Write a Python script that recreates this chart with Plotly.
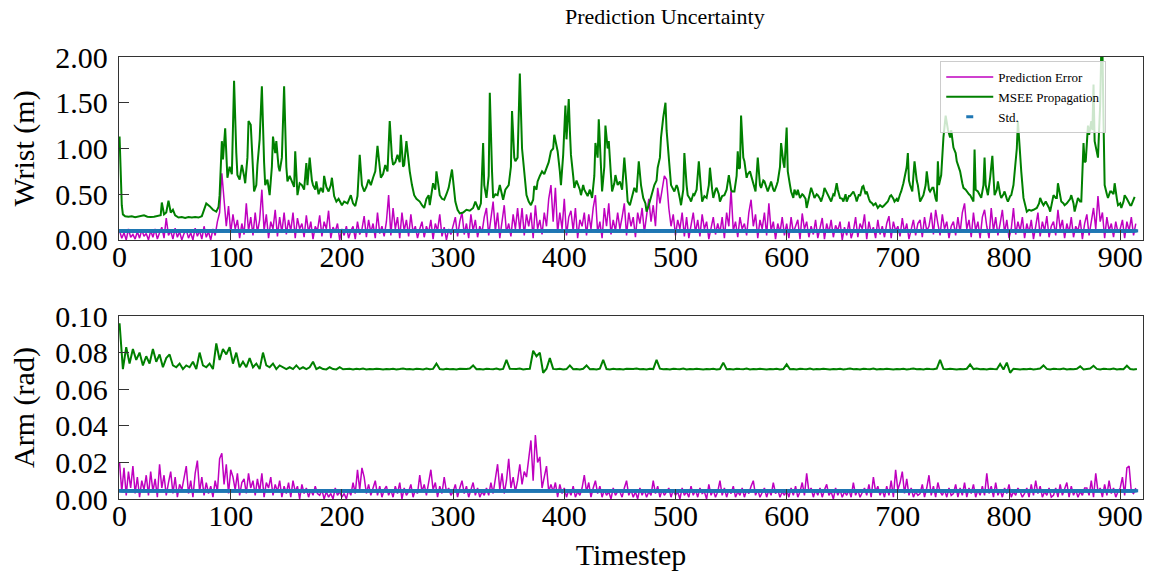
import plotly.graph_objects as go

# ---------------- data ----------------
# Wrist MSEE propagation (timestep, value)
wrist_msee_t = [0,1,2,3,5,8,11,14,17,20,22,25,28,31,34,37,38,40,42,44,46,48,50,53,56,59,62,65,68,71,74,76,78,81,84,87,89,90,92,93,95,97,99,101,103,105,106,108,110,112,113,115,116,118,119,121,123,124,126,128,130,131,133,135,137,138,140,141,143,144,146,148,150,151,153,155,157,158,160,162,164,166,168,169,171,173,174,176,177,179,181,183,184,186,188,190,191,193,195,197,200,202,205,208,210,212,214,216,218,220,222,224,226,228,230,232,234,235,237,239,241,243,245,246,248,250,252,253,255,256,258,260,261,263,265,267,270,272,274,276,278,279,281,282,284,285,287,288,290,292,294,296,299,301,302,304,306,309,312,315,318,320,322,323,325,327,328,330,332,333,335,336,338,340,342,345,347,350,352,353,355,356,358,360,362,363,364,366,368,370,372,373,375,376,378,380,382,384,386,388,390,391,393,394,396,397,399,401,402,404,405,406,408,409,411,412,414,415,417,418,420,421,423,425,427,428,430,431,433,434,436,437,439,440,442,443,445,446,448,450,452,454,456,457,459,461,463,465,467,469,471,473,474,476,477,479,481,483,484,486,487,489,491,492,493,495,496,498,499,501,502,504,505,507,508,510,511,513,514,516,517,519,521,523,524,526,528,530,531,533,534,536,537,539,540,542,544,546,548,550,551,553,555,556,557,558,559,561,562,564,565,567,569,570,572,574,576,577,579,580,582,583,585,586,588,589,591,592,594,595,597,598,600,601,603,604,606,607,609,610,612,614,615,617,618,620,622,624,625,627,628,630,631,633,634,636,637,639,640,642,643,645,646,648,650,651,653,654,656,657,659,660,662,663,665,666,668,669,671,672,674,675,677,678,680,682,684,686,687,689,691,693,694,696,697,699,700,702,703,705,706,708,709,710,711,713,714,715,717,718,720,722,723,725,726,728,729,731,732,734,735,736,737,739,741,743,745,747,748,750,752,753,755,756,758,759,761,762,764,765,767,768,769,770,772,773,775,777,778,779,781,783,785,786,787,789,790,792,793,795,796,798,799,801,802,804,805,807,808,810,811,813,815,816,818,820,822,825,827,828,830,831,833,834,836,837,839,840,842,843,844,846,847,849,850,852,853,855,856,858,859,861,862,864,865,867,868,869,871,872,874,875,876,877,879,880,881,882,883,884,885,886,888,889,891,892,894,895,897,898,900,901,903,904,906,907,909,910,912,913]
wrist_msee = [1.13,0.70,0.38,0.28,0.26,0.255,0.26,0.25,0.255,0.26,0.27,0.255,0.25,0.255,0.26,0.27,0.41,0.28,0.30,0.43,0.30,0.33,0.27,0.245,0.25,0.24,0.25,0.245,0.25,0.245,0.26,0.33,0.40,0.37,0.33,0.31,0.36,0.49,1.08,0.88,1.22,0.68,0.80,0.72,1.74,0.95,0.71,0.66,0.82,0.70,0.62,0.90,1.30,1.26,1.00,0.53,0.60,0.82,1.10,1.68,0.85,0.60,0.66,0.49,0.80,1.13,0.95,1.08,0.80,0.75,0.90,1.68,0.80,0.64,0.70,0.64,0.58,0.97,0.49,0.62,0.60,0.55,0.84,0.60,0.90,0.65,0.60,0.55,0.64,0.50,0.57,0.52,0.70,0.58,0.53,0.60,0.68,0.48,0.42,0.45,0.38,0.42,0.40,0.49,0.40,0.37,0.48,0.93,0.60,0.53,0.58,0.66,0.60,0.68,0.75,1.03,0.80,0.68,0.72,0.82,0.75,1.30,0.90,0.82,0.85,0.93,0.85,1.15,0.80,0.82,1.08,0.80,0.75,0.60,0.49,0.45,0.42,0.38,0.35,0.45,0.49,0.38,0.52,0.62,0.55,0.75,0.58,0.49,0.45,0.44,0.50,0.57,0.77,0.50,0.42,0.33,0.29,0.30,0.33,0.32,0.35,0.42,0.36,0.33,0.40,1.06,0.60,0.46,0.70,1.61,0.75,0.46,0.50,0.49,0.60,0.44,0.55,0.60,0.80,1.41,0.90,0.86,0.90,1.82,1.00,0.86,0.75,0.49,0.42,0.38,0.44,0.59,0.55,0.64,0.70,0.75,0.72,0.79,0.85,0.97,1.00,1.15,1.00,0.97,0.75,0.60,0.93,1.47,1.10,1.54,1.20,0.93,0.70,0.57,0.65,0.62,0.55,0.49,0.60,0.55,0.50,0.48,0.55,0.46,0.70,1.06,0.90,1.32,0.80,0.53,0.80,1.25,1.00,1.08,0.70,0.53,0.62,0.71,0.60,0.64,0.55,0.90,0.60,0.42,0.38,0.49,0.57,0.52,0.86,0.60,0.46,0.40,0.31,0.38,0.42,0.50,0.60,0.65,0.79,0.90,1.12,1.34,1.50,1.20,1.01,0.75,0.60,0.55,0.53,0.60,0.57,0.45,0.38,0.55,0.95,0.60,0.49,0.45,0.42,0.50,0.49,0.55,0.86,0.55,0.42,0.48,0.46,0.60,0.79,0.55,0.46,0.55,0.57,0.50,0.42,0.48,0.49,0.55,0.71,0.55,0.53,0.53,0.70,0.97,0.78,0.79,1.36,0.90,0.86,0.68,0.72,0.75,0.65,0.60,0.53,0.90,0.60,0.57,0.65,0.64,0.55,0.53,0.60,0.64,0.55,0.53,0.60,0.64,0.80,1.06,0.85,0.79,1.23,0.75,0.60,0.53,0.46,0.55,0.49,0.55,0.46,0.50,0.49,0.45,0.35,0.45,0.57,0.50,0.46,0.50,0.49,0.45,0.42,0.50,0.57,0.52,0.49,0.45,0.42,0.50,0.49,0.62,0.55,0.46,0.45,0.42,0.50,0.42,0.48,0.48,0.52,0.53,0.47,0.42,0.50,0.48,0.58,0.59,0.50,0.53,0.45,0.42,0.40,0.38,0.40,0.35,0.38,0.36,0.37,0.40,0.42,0.48,0.49,0.45,0.42,0.45,0.42,0.50,0.53,0.62,0.68,0.80,0.95,0.65,0.60,0.53,0.70,0.86,0.65,0.60,0.42,0.48,0.49,0.60,0.75,0.55,0.53,0.57,0.57,0.45,0.42,0.86,0.60,0.71,1.12,1.36,1.21,1.12,1.20,1.01,0.95,0.86,0.80,0.75,0.62,0.57,0.55,0.53,0.50,0.49,0.45,0.42,0.99,0.55,0.53,0.50,0.46,0.60,0.90,0.60,0.49,0.68,0.92,0.70,0.49,0.55,0.64,0.50,0.46,0.50,0.53,0.45,0.42,0.48,0.49,0.60,0.75,1.00,1.30,0.90,0.75,0.46,0.35,0.31,0.33,0.32,0.33,0.35,0.40,0.46,0.40,0.38,0.42,0.40,0.35,0.31,0.45,0.49,0.46,0.46,0.62,0.45,0.42,0.40,0.38,0.40,0.42,0.45,0.49,0.40,0.31,0.40,0.46,0.42,0.42,1.06,0.85,0.86,1.25,1.15,1.30,1.20,1.70,1.08,0.95,0.90,1.20,1.48,2.10,2.10,1.30,0.60,0.50,0.46,0.53,0.53,0.50,0.62,0.45,0.38,0.40,0.35,0.42,0.49,0.45,0.42,0.38,0.38,0.45,0.47]

# Prediction error, every 2nd timestep
err_t = list(range(0, 915, 2))
wrist_err = [
0.10,0.02,0.08,0.00,0.12,0.03,0.06,0.01,0.09,0.02,0.11,0.04,0.07,0.00,0.10,
0.03,0.12,0.01,0.08,0.14,0.02,0.24,0.05,0.10,0.01,0.13,0.03,0.09,0.00,0.07,
0.11,0.02,0.08,0.00,0.13,0.04,0.10,0.01,0.15,0.03,0.09,0.00,0.12,0.05,0.20,
0.30,0.73,0.45,0.15,0.37,0.08,0.28,0.12,0.22,0.02,0.18,0.06,0.40,0.10,0.25,
0.05,0.30,0.08,0.22,0.55,0.10,0.28,0.02,0.20,0.12,0.33,0.04,0.25,0.08,0.30,
0.06,0.22,0.10,0.30,0.02,0.24,0.12,0.18,0.03,0.27,0.08,0.20,0.01,0.15,0.10,
0.27,0.04,0.20,0.12,0.32,0.02,0.14,0.09,0.18,0.00,0.12,0.05,0.15,0.02,0.10,
0.15,0.01,0.20,0.06,0.12,0.26,0.03,0.22,0.08,0.18,0.02,0.30,0.07,0.15,0.04,
0.20,0.49,0.05,0.35,0.12,0.25,0.02,0.30,0.10,0.22,0.04,0.28,0.08,0.15,0.02,
0.12,0.20,0.03,0.15,0.08,0.22,0.01,0.18,0.10,0.28,0.04,0.14,0.00,0.12,0.06,
0.15,0.25,0.04,0.20,0.30,0.06,0.18,0.02,0.28,0.10,0.22,0.03,0.15,0.08,0.25,
0.35,0.05,0.25,0.42,0.10,0.30,0.02,0.22,0.38,0.08,0.18,0.04,0.28,0.12,0.35,
0.10,0.35,0.05,0.28,0.15,0.30,0.02,0.38,0.12,0.22,0.06,0.30,0.15,0.45,0.60,
0.20,0.57,0.08,0.30,0.12,0.45,0.05,0.25,0.32,0.10,0.35,0.02,0.22,0.15,0.30,
0.05,0.28,0.12,0.35,0.49,0.08,0.20,0.02,0.35,0.15,0.40,0.06,0.22,0.10,0.30,
0.12,0.25,0.40,0.05,0.30,0.15,0.25,0.03,0.30,0.18,0.35,0.08,0.28,0.45,0.20,
0.38,0.15,0.57,0.40,0.55,0.70,0.66,0.35,0.15,0.28,0.05,0.22,0.12,0.30,0.04,
0.25,0.02,0.18,0.30,0.08,0.22,0.04,0.28,0.12,0.20,0.01,0.15,0.25,0.06,0.18,
0.08,0.25,0.02,0.30,0.15,0.55,0.10,0.20,0.03,0.25,0.12,0.18,0.05,0.30,0.44,
0.15,0.28,0.02,0.22,0.12,0.30,0.05,0.40,0.10,0.20,0.01,0.18,0.08,0.25,0.05,
0.18,0.02,0.25,0.08,0.15,0.22,0.01,0.29,0.12,0.20,0.03,0.15,0.06,0.22,0.02,
0.15,0.24,0.01,0.18,0.08,0.22,0.03,0.16,0.10,0.20,0.00,0.14,0.05,0.20,0.02,
0.10,0.25,0.03,0.18,0.12,0.28,0.01,0.20,0.08,0.14,0.02,0.22,0.06,0.15,0.03,
0.18,0.26,0.02,0.20,0.10,0.15,0.04,0.24,0.08,0.18,0.01,0.12,0.22,0.05,0.18,
0.22,0.03,0.25,0.10,0.15,0.30,0.06,0.33,0.18,0.05,0.28,0.12,0.20,0.02,0.15,
0.20,0.05,0.25,0.08,0.30,0.40,0.12,0.22,0.03,0.30,0.10,0.20,0.02,0.25,0.33,
0.15,0.02,0.35,0.10,0.25,0.05,0.18,0.33,0.08,0.22,0.02,0.12,0.35,0.06,0.20,
0.10,0.25,0.02,0.18,0.08,0.22,0.01,0.15,0.30,0.04,0.20,0.10,0.26,0.03,0.15,
0.20,0.05,0.33,0.12,0.22,0.02,0.18,0.08,0.25,0.03,0.15,0.10,0.22,0.01,0.18,
0.28,0.05,0.22,0.35,0.12,0.48,0.20,0.30,0.02,0.25,0.10,0.18,0.03,0.20,0.08,
0.12,0.22,0.02,0.20,0.10,0.25,0.05,0.18]

arm_err = [
0.020,0.004,0.017,0.002,0.015,0.006,0.018,0.003,0.012,0.001,0.010,0.005,0.013,0.002,0.015,
0.004,0.011,0.001,0.019,0.006,0.013,0.002,0.009,0.015,0.003,0.012,0.001,0.008,0.005,0.012,
0.018,0.003,0.010,0.001,0.014,0.021,0.004,0.012,0.002,0.009,0.003,0.007,0.001,0.010,0.004,
0.022,0.025,0.008,0.019,0.003,0.016,0.012,0.005,0.014,0.002,0.009,0.011,0.003,0.014,0.006,
0.010,0.002,0.011,0.004,0.014,0.001,0.009,0.006,0.012,0.002,0.008,0.004,0.010,0.001,0.007,
0.003,0.009,0.001,0.010,0.004,0.007,0.000,0.008,0.003,0.006,0.001,0.005,0.002,0.007,0.003,
0.002,0.005,0.000,0.004,0.001,0.003,0.000,0.006,0.002,0.004,0.001,0.003,0.000,0.005,0.002,
0.009,0.003,0.016,0.005,0.017,0.012,0.003,0.008,0.002,0.006,0.010,0.002,0.007,0.001,0.005,
0.007,0.002,0.005,0.001,0.007,0.003,0.009,0.000,0.006,0.002,0.004,0.008,0.001,0.005,0.003,
0.013,0.004,0.008,0.002,0.010,0.016,0.005,0.009,0.001,0.007,0.003,0.012,0.004,0.006,0.002,
0.004,0.008,0.001,0.006,0.010,0.003,0.007,0.001,0.005,0.009,0.002,0.006,0.001,0.004,0.002,
0.006,0.002,0.009,0.003,0.012,0.019,0.005,0.014,0.003,0.010,0.022,0.006,0.012,0.004,0.010,
0.019,0.008,0.015,0.012,0.024,0.032,0.010,0.035,0.020,0.023,0.006,0.012,0.018,0.004,0.008,
0.004,0.009,0.001,0.008,0.003,0.006,0.001,0.005,0.002,0.007,0.001,0.004,0.002,0.006,0.013,
0.004,0.009,0.001,0.006,0.010,0.003,0.007,0.001,0.005,0.002,0.004,0.000,0.006,0.002,0.004,
0.004,0.001,0.006,0.010,0.002,0.005,0.001,0.004,0.000,0.006,0.002,0.005,0.001,0.004,0.002,
0.010,0.003,0.007,0.001,0.005,0.002,0.004,0.006,0.001,0.005,0.002,0.004,0.000,0.006,0.002,
0.004,0.001,0.007,0.002,0.005,0.001,0.006,0.003,0.004,0.000,0.008,0.002,0.005,0.001,0.004,
0.010,0.002,0.006,0.001,0.005,0.003,0.007,0.001,0.004,0.002,0.006,0.001,0.005,0.003,0.007,
0.010,0.002,0.005,0.001,0.004,0.006,0.001,0.005,0.002,0.009,0.003,0.005,0.001,0.004,0.002,
0.005,0.001,0.006,0.002,0.007,0.001,0.004,0.009,0.002,0.014,0.004,0.006,0.001,0.005,0.002,
0.006,0.001,0.005,0.008,0.002,0.004,0.000,0.006,0.002,0.005,0.001,0.004,0.002,0.005,0.001,
0.009,0.002,0.005,0.001,0.004,0.006,0.002,0.008,0.001,0.012,0.004,0.007,0.002,0.005,0.001,
0.007,0.002,0.010,0.001,0.016,0.005,0.009,0.015,0.003,0.011,0.002,0.006,0.001,0.004,0.002,
0.003,0.008,0.001,0.006,0.013,0.002,0.007,0.001,0.009,0.004,0.002,0.005,0.001,0.006,0.002,
0.003,0.008,0.001,0.006,0.002,0.009,0.001,0.006,0.003,0.008,0.001,0.005,0.002,0.007,0.002,
0.014,0.003,0.007,0.001,0.009,0.002,0.005,0.001,0.006,0.003,0.008,0.001,0.004,0.002,0.006,
0.004,0.001,0.003,0.006,0.001,0.008,0.002,0.010,0.003,0.007,0.001,0.004,0.002,0.006,0.001,
0.002,0.006,0.001,0.008,0.002,0.005,0.009,0.001,0.007,0.002,0.005,0.001,0.004,0.002,0.006,
0.006,0.002,0.010,0.001,0.014,0.004,0.006,0.001,0.008,0.002,0.010,0.003,0.006,0.001,0.004,
0.006,0.012,0.002,0.017,0.018,0.004,0.003,0.006]

# Arm MSEE propagation, every 3rd timestep
arm_msee_t = list(range(0, 916, 3))
arm_msee = [
0.096,0.071,0.083,0.074,0.082,0.076,0.080,0.073,0.078,0.074,
0.082,0.075,0.079,0.072,0.077,0.079,0.073,0.072,0.074,0.071,
0.073,0.072,0.075,0.071,0.080,0.073,0.072,0.074,0.071,0.085,
0.076,0.082,0.079,0.083,0.074,0.080,0.072,0.075,0.072,0.077,
0.072,0.074,0.071,0.080,0.073,0.072,0.074,0.071,0.073,0.072,
0.071,0.072,0.071,0.073,0.071,0.072,0.071,0.072,0.075,0.071,
0.072,0.071,0.0708,0.072,0.0710,0.0708,0.072,0.0709,0.0710,0.0712,
0.0708,0.0712,0.0709,0.0713,0.0708,0.0711,0.0709,0.0712,0.0710,0.0708,
0.0711,0.0709,0.0712,0.0708,0.0710,0.0713,0.0709,0.0711,0.0708,0.0712,
0.0710,0.0708,0.0713,0.0709,0.0711,0.074,0.0710,0.0708,0.0712,0.0709,
0.0711,0.0708,0.0712,0.0709,0.0710,0.0713,0.073,0.0709,0.0711,0.0708,
0.0712,0.0710,0.0709,0.0713,0.0708,0.0711,0.076,0.0712,0.0709,0.0710,
0.0713,0.0708,0.0711,0.0712,0.081,0.078,0.080,0.069,0.0712,0.077,
0.0711,0.0709,0.0712,0.0708,0.0710,0.073,0.0709,0.0711,0.0708,0.0712,
0.073,0.0709,0.0711,0.0708,0.0712,0.076,0.0710,0.0708,0.0712,0.0709,
0.0711,0.0708,0.0712,0.0709,0.0710,0.0713,0.0709,0.0711,0.0708,0.0712,
0.0710,0.076,0.0712,0.0709,0.0711,0.0708,0.0712,0.0710,0.0709,0.0713,
0.0708,0.0711,0.0709,0.0712,0.0710,0.0708,0.0711,0.0709,0.0712,0.0708,
0.0710,0.0745,0.0709,0.0711,0.0708,0.0712,0.0710,0.0709,0.0713,0.0708,
0.0711,0.0709,0.0712,0.0710,0.0708,0.0711,0.0709,0.0712,0.0708,0.0710,
0.0736,0.0709,0.0711,0.0708,0.0712,0.0710,0.0709,0.0713,0.0708,0.0711,
0.0709,0.0712,0.0710,0.0708,0.0711,0.0709,0.0712,0.0708,0.0710,0.0713,
0.0709,0.0711,0.0708,0.0712,0.0710,0.0709,0.0713,0.0708,0.0711,0.0709,
0.0712,0.0710,0.0708,0.0711,0.0709,0.0712,0.0708,0.0710,0.0713,0.0709,
0.0711,0.0708,0.0712,0.0710,0.0709,0.0713,0.076,0.0711,0.0709,0.0712,
0.0710,0.0708,0.0711,0.0709,0.0712,0.0735,0.0710,0.0713,0.0709,0.0711,
0.0708,0.0712,0.0710,0.0709,0.0738,0.0708,0.0745,0.069,0.0712,0.0710,
0.0708,0.0711,0.0709,0.0712,0.0708,0.0710,0.0713,0.073,0.0711,0.0708,
0.0712,0.0710,0.0709,0.0713,0.0708,0.0711,0.0709,0.0712,0.0725,0.0708,
0.0710,0.0713,0.0728,0.0711,0.0708,0.0712,0.0710,0.0709,0.0713,0.0708,
0.0711,0.0709,0.0728,0.0710,0.0708,0.0711]

std_t = list(range(0, 914))
wrist_std = 0.10
arm_std = 0.0045

x_ticks = [0, 100, 200, 300, 400, 500, 600, 700, 800, 900]
wrist_ticks = [0.0, 0.5, 1.0, 1.5, 2.0]
arm_ticks = [0.0, 0.02, 0.04, 0.06, 0.08, 0.10]

# ---------------- figure ----------------
MAG = "#bf00bf"
GRN = "#008000"
BLU = "#1f77b4"
FONT = "Liberation Serif"

fig = go.Figure()

def add_panel(xa, ya, err, msee_t, msee, std, show):
    fig.add_trace(go.Scatter(x=err_t, y=err, mode="lines", name="Prediction Error",
                             line=dict(color=MAG, width=1.5), xaxis=xa, yaxis=ya,
                             showlegend=show))
    fig.add_trace(go.Scatter(x=msee_t, y=msee, mode="lines", name="MSEE Propagation",
                             line=dict(color=GRN, width=2.0), xaxis=xa, yaxis=ya,
                             showlegend=show))
    fig.add_trace(go.Scatter(x=std_t, y=[std] * len(std_t), mode="markers", name="Std.",
                             marker=dict(symbol="line-ew-open", size=5, color=BLU,
                                         line=dict(width=3.2, color=BLU)),
                             xaxis=xa, yaxis=ya, showlegend=show))

add_panel("x", "y", wrist_err, wrist_msee_t, wrist_msee, wrist_std, True)
add_panel("x2", "y2", arm_err, arm_msee_t, arm_msee, arm_std, False)

axis_common = dict(showline=True, linecolor="#333333", linewidth=1.3, mirror=True,
                   ticks="inside", ticklen=10, tickwidth=1.3, tickcolor="#333333",
                   showgrid=False, zeroline=False,
                   tickfont=dict(family=FONT, size=30, color="black"))

fig.update_layout(
    width=1156, height=581,
    margin=dict(l=119, r=13, t=57, b=82),
    paper_bgcolor="white", plot_bgcolor="white",
    font=dict(family=FONT, color="black"),
    title=dict(text="Prediction Uncertainty", x=0.533, xref="paper", xanchor="center",
               y=0.972, yanchor="middle", font=dict(family=FONT, size=22, color="black")),
    xaxis=dict(domain=[0, 1], anchor="y", range=[-0.5, 920.5], tickvals=x_ticks,
               ticklabelstandoff=-10, **axis_common),
    yaxis=dict(domain=[0.586, 1], anchor="x", range=[0, 2.0], tickvals=wrist_ticks,
               tickformat=".2f", ticklabelstandoff=4,
               title=dict(text="Wrist (m)", font=dict(family=FONT, size=30), standoff=11),
               **axis_common),
    xaxis2=dict(domain=[0, 1], anchor="y2", range=[-0.5, 920.5], tickvals=x_ticks,
                ticklabelstandoff=-10,
                title=dict(text="Timestep", font=dict(family=FONT, size=30), standoff=12),
                **axis_common),
    yaxis2=dict(domain=[0, 0.414], anchor="x2", range=[0, 0.10], tickvals=arm_ticks,
                tickformat=".2f", ticklabelstandoff=4,
                title=dict(text="Arm (rad)", font=dict(family=FONT, size=30), standoff=11),
                **axis_common),
    legend=dict(x=0.802, y=0.991, xanchor="left", yanchor="top",
                bgcolor="rgba(255,255,255,0.8)", bordercolor="#cccccc", borderwidth=1,
                font=dict(family=FONT, size=13, color="black"),
                tracegroupgap=0, itemwidth=47),
    showlegend=True,
)

fig.write_html("out.html")
